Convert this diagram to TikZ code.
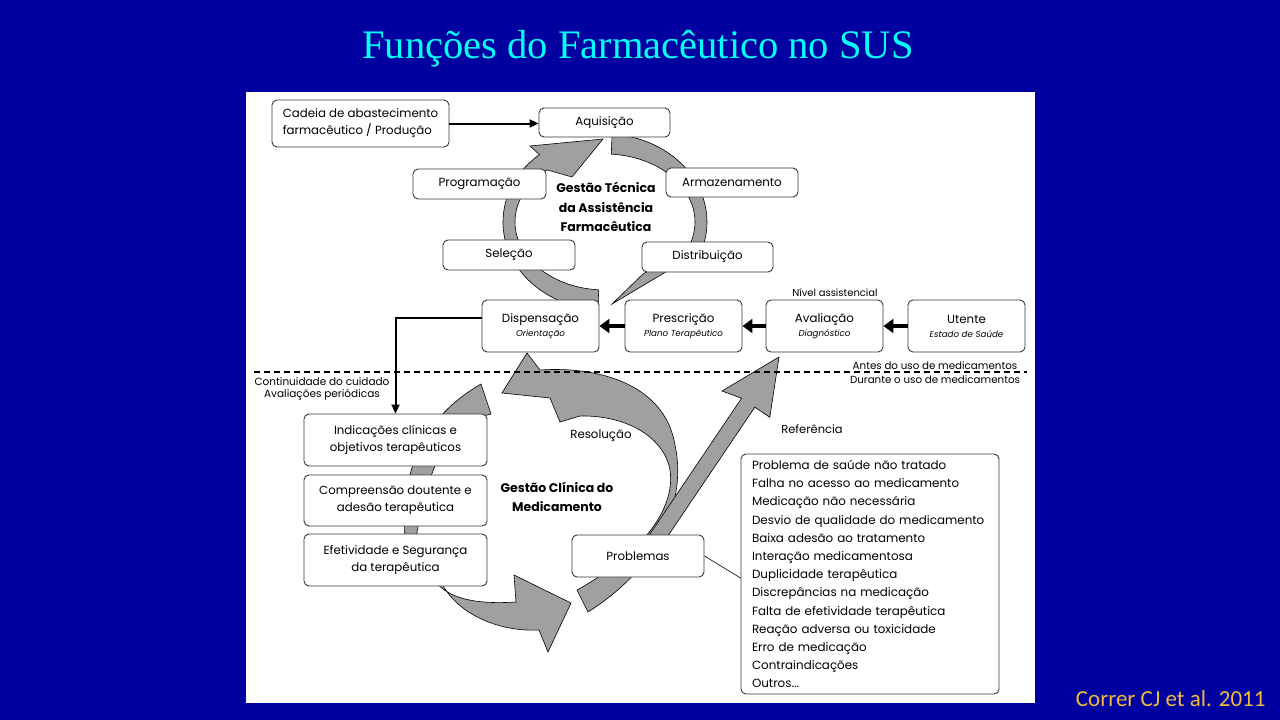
\documentclass[tikz,border=0pt]{standalone}
\usepackage{fontspec}
\setsansfont{Poppins}
\newfontfamily\titlefont{Liberation Serif}
\newfontfamily\citefont{Carlito}
\usetikzlibrary{arrows.meta,calc}

\definecolor{slideblue}{RGB}{0,0,160}
\definecolor{titlecyan}{RGB}{0,255,255}
\definecolor{citegold}{RGB}{240,185,60}
\definecolor{arrowgray}{RGB}{160,160,163}
\definecolor{boxline}{RGB}{55,55,55}

\newcommand{\subtxt}[1]{{\itshape\fontsize{8.7}{10}\selectfont #1}}

\tikzset{
  box/.style={draw=boxline, line width=0.9pt, rounded corners=5pt, fill=white,
    inner sep=0pt, align=center, font=\sffamily\fontsize{11.8}{17}\selectfont},
  blockarr/.style={fill=arrowgray, draw=black, line width=0.6pt},
  flow/.style={line width=2pt, -{Triangle[length=9pt,width=8pt]}},
  bigflow/.style={line width=4.5pt, -{Triangle[length=10pt,width=14pt]}},
  note/.style={font=\sffamily\fontsize{10.5}{12}\selectfont},
  heading/.style={font=\sffamily\bfseries\fontsize{12.5}{19.5}\selectfont, align=center},
}

\begin{document}
\begin{tikzpicture}[x=1pt, y=-1pt]

    \useasboundingbox (0,0) rectangle (1280,720);
    \fill[slideblue] (0,0) rectangle (1280,720);
    \fill[white] (246,92) rectangle (1035,703);

    \node[text=titlecyan, font=\titlefont\fontsize{40.5}{44}\selectfont] (titulo) at (638,49) {Funções do Farmacêutico no SUS};
    \node[text=citegold, font=\citefont\fontsize{23}{26}\selectfont, anchor=east] (fonte) at (1269,699) {Correr CJ et al. 2011};

    % ciclo da gestao tecnica
    \coordinate (uc) at (605,222);
    \filldraw[blockarr] ($(uc)+(-86:102 and 88)$) arc[start angle=-86, end angle=22, x radius=102, y radius=88]
        -- (696,254) -- (612,304) -- (643,274) -- ($(uc)+(22:90 and 68)$)
        arc[start angle=22, end angle=-86, x radius=90, y radius=68] -- cycle;
    \filldraw[blockarr] ($(uc)+(94:102 and 88)$) arc[start angle=94, end angle=230, x radius=102, y radius=88]
        -- (530,146) -- (603,139) -- (572,177) -- ($(uc)+(230:90 and 68)$)
        arc[start angle=230, end angle=94, x radius=90, y radius=68] -- cycle;

    % ciclo da gestao clinica
    \filldraw[blockarr] (406,550) .. controls (400,490) and (410,425) .. (481,384) -- (491,414) -- (470,420)
        .. controls (440,440) and (425,480) .. (414,550) -- cycle;
    \filldraw[blockarr] (434,580) .. controls (450,602) and (485,604) .. (516,602) -- (514,575) -- (571,603)
        -- (548,652) -- (539,630) .. controls (505,632) and (458,618) .. (440,580) -- cycle;
    \filldraw[blockarr] (527,353) -- (540,370) .. controls (600,366) and (665,385) .. (675,445)
        .. controls (685,490) and (670,560) .. (588,612) -- (577,590)
        .. controls (640,555) and (676,510) .. (670,470) .. controls (665,440) and (630,415) .. (580,416)
        -- (560,422) -- (550,398) -- (502,393) -- cycle;
    \filldraw[blockarr] (779,357) -- (769.8,417.3) -- (754.8,407.2) -- (654,556.6) -- (640.8,547.6)
        -- (741.6,398.2) -- (722,391) -- cycle;

    \coordinate (divl) at (254,372);
    \coordinate (divr) at (1027,372);
    \draw[line width=1.6pt, dash pattern=on 6pt off 4pt] (divl) -- (divr);

    \node[box, minimum width=177pt, minimum height=47pt, align=left] (cadeia) at (360.5,123.5) {Cadeia de abastecimento\\farmacêutico / Produção};
    \node[box, minimum width=131pt, minimum height=29pt] (aquis) at (604.5,122.5) {Aquisição};
    \node[box, minimum width=133pt, minimum height=30pt] (prog) at (479.5,184) {Programação};
    \node[box, minimum width=132pt, minimum height=29pt] (armaz) at (732,182.5) {Armazenamento};
    \node[box, minimum width=132pt, minimum height=30pt] (selec) at (509,255) {Seleção};
    \node[box, minimum width=131pt, minimum height=30pt] (distr) at (707.5,257) {Distribuição};
    \node[heading] (gtec) at (606,207) {Gestão Técnica\\da Assistência\\Farmacêutica};

    \node[box, minimum width=117pt, minimum height=52pt] (disp) at (540.5,326) {Dispensação\\[-3pt]\subtxt{Orientação}};
    \node[box, minimum width=117pt, minimum height=52pt] (presc) at (683.5,326) {Prescrição\\[-3pt]\subtxt{Plano Terapêutico}};
    \node[box, minimum width=117pt, minimum height=52pt] (aval) at (824.5,326) {Avaliação\\[-3pt]\subtxt{Diagnóstico}};
    \node[box, minimum width=117pt, minimum height=52pt] (utente) at (966.5,326) {Utente\\[-3pt]\subtxt{Estado de Saúde}};
    \node[note, font=\sffamily\fontsize{10}{11}\selectfont] (nivel) at (835,293) {Nível assistencial};

    \node[note, align=center, font=\sffamily\fontsize{10.3}{14}\selectfont] (fase) at (935,373) {Antes do uso de medicamentos\\Durante o uso de medicamentos};
    \node[note, align=center, font=\sffamily\fontsize{10.5}{12}\selectfont] (contin) at (322,389) {Continuidade do cuidado\\Avaliações periódicas};

    \node[box, minimum width=183pt, minimum height=52pt] (indic) at (395.5,440) {Indicações clínicas e\\objetivos terapêuticos};
    \node[box, minimum width=183pt, minimum height=51pt] (compr) at (395.5,500.5) {Compreensão doutente e\\adesão terapêutica};
    \node[box, minimum width=183pt, minimum height=52pt] (efet) at (395.5,560) {Efetividade e Segurança\\da terapêutica};
    \node[heading, font=\sffamily\bfseries\fontsize{12.5}{19}\selectfont] (gclin) at (557,497) {Gestão Clínica do\\Medicamento};
    \node[note, font=\sffamily\fontsize{11.8}{13}\selectfont] (resol) at (601,436) {Resolução};
    \node[note, font=\sffamily\fontsize{11.5}{13}\selectfont] (refer) at (812,429) {Referência};

    \node[box, minimum width=132pt, minimum height=42pt] (probl) at (638,556) {Problemas};
    \node[box, minimum width=258pt, minimum height=240pt, text width=236pt, align=left, font=\sffamily\fontsize{11.9}{18.2}\selectfont] (lista) at (870,574)
        {Problema de saúde não tratado\\Falha no acesso ao medicamento\\Medicação não necessária\\Desvio de qualidade do medicamento\\Baixa adesão ao tratamento\\Interação medicamentosa\\Duplicidade terapêutica\\Discrepâncias na medicação\\Falta de efetividade terapêutica\\Reação adversa ou toxicidade\\Erro de medicação\\Contraindicações\\Outros...};

    \draw[flow] (cadeia.east) -- (cadeia.east -| aquis.west);
    \draw[bigflow] (utente) -- (aval);
    \draw[bigflow] (aval) -- (presc);
    \draw[bigflow] (presc) -- (disp);
    \draw[flow] ([yshift=8pt]disp.west) -| (indic.north);
    \draw[line width=0.6pt] (probl.east) -- ([yshift=-4pt]lista.west);

\end{tikzpicture}
\end{document}
